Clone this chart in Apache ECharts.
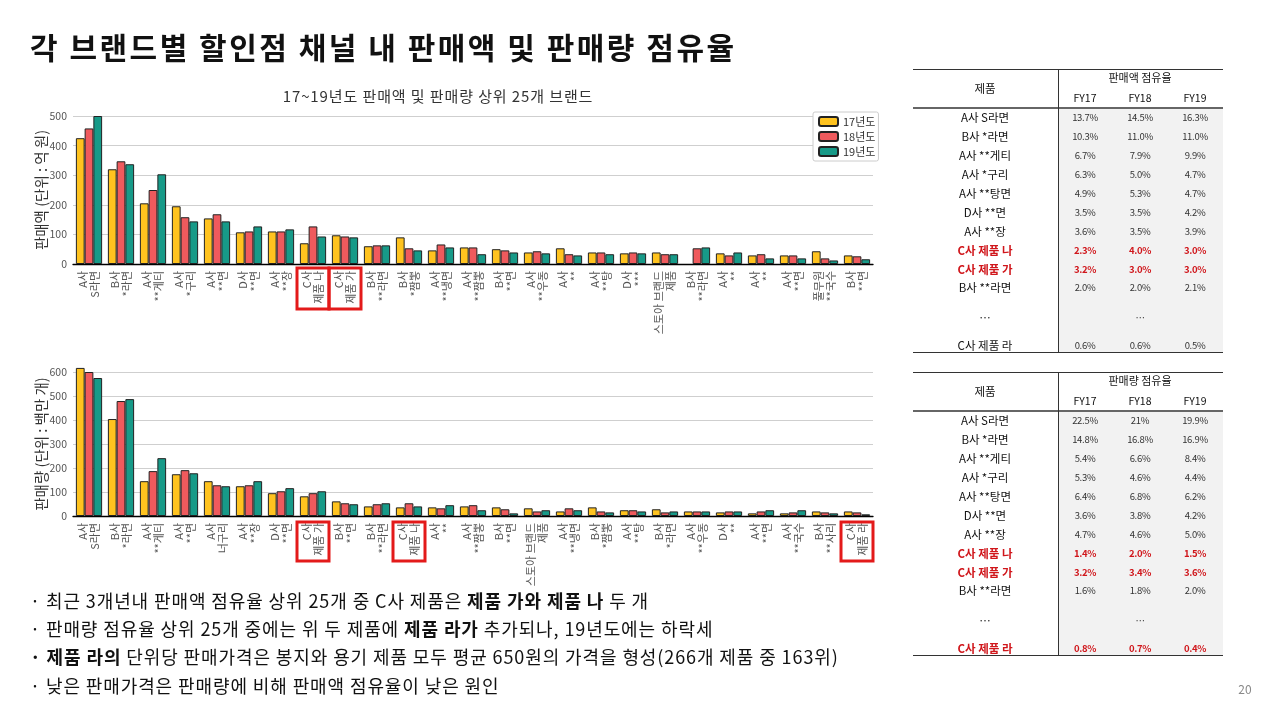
<!DOCTYPE html>
<html><head><meta charset="utf-8">
<script src="https://cdn.jsdelivr.net/npm/echarts@6/dist/echarts.min.js"></script>
<style>
body{margin:0;width:1280px;height:720px;overflow:hidden;background:#fff;font-family:"Noto Sans CJK KR","Noto Sans",sans-serif;color:#111;}
#chart{position:absolute;left:0;top:0;width:1280px;height:720px;}
.abs{position:absolute;white-space:nowrap;}
.c{transform:translate(-50%,-50%);}
.l{transform:translate(0,-50%);}
</style></head><body>
<div id="chart"></div>
<div id="overlay"></div>
<script>
// ---------- data ----------
const seriesNames = ['17년도', '18년도', '19년도'];
const salesCategories = ['A사\nS라면','B사\n*라면','A사\n**게티','A사\n*구리','A사\n**면','D사\n**면','A사\n**장','C사\n제품 나','C사\n제품 가','B사\n**라면','B사\n*짬뽕','A사\n**냉면','A사\n**짬뽕','B사\n**면','A사\n**우동','A사\n**','A사\n**탕','D사\n***','스토아 브랜드\n제품','B사\n**라면','A사\n**','A사\n**','A사\n**면','풀무원\n**국수','B사\n**면'];
const sales17 = [425,320,205,195,154,107,110,70,97,60,90,46,56,50,39,53,39,36,39,null,36,29,29,43,29];
const sales18 = [458,347,250,158,168,110,110,127,93,63,53,66,56,46,43,33,39,39,33,53,29,33,29,19,26];
const sales19 = [500,337,303,144,144,127,117,93,90,63,46,56,33,39,36,29,33,36,33,56,39,19,19,12,16];

const volumeCategories = ['A사\nS라면','B사\n*라면','A사\n**게티','A사\n**면','A사\n너구리','A사\n**장','D사\n**면','C사\n제품 가','B사\n**면','B사\n**라면','C사\n제품 나','A사\n**','A사\n**짬뽕','B사\n**면','스토아 브랜드\n제품','A사\n**냉면','B사\n*짬뽕','A사\n**탕','B사\n*라면','A사\n**우동','D사\n**','A사\n**면','A사\n**국수','B사\n**사리','C사\n제품 라'];
const volume17 = [617,404,145,174,145,124,95,82,61,40,36,36,40,36,32,19,36,24,28,19,15,11,11,19,19];
const volume18 = [600,479,187,191,128,128,103,95,53,49,53,32,45,28,19,32,19,24,15,19,19,19,15,15,15];
const volume19 = [575,487,241,178,124,145,116,103,49,53,40,45,24,11,24,24,15,19,19,19,19,24,24,11,7];

const salesTicks = [0,100,200,300,400,500];
const volumeTicks = [0,100,200,300,400,500,600];

const shareProducts = ['A사 S라면','B사 *라면','A사 **게티','A사 *구리','A사 **탕면','D사 **면','A사 **장','C사 제품 나','C사 제품 가','B사 **라면','…','C사 제품 라'];
const salesShare17 = ['13.7%','10.3%','6.7%','6.3%','4.9%','3.5%','3.6%','2.3%','3.2%','2.0%','','0.6%'];
const salesShare18 = ['14.5%','11.0%','7.9%','5.0%','5.3%','3.5%','3.5%','4.0%','3.0%','2.0%','…','0.6%'];
const salesShare19 = ['16.3%','11.0%','9.9%','4.7%','4.7%','4.2%','3.9%','3.0%','3.0%','2.1%','','0.5%'];
const salesShareHighlight = ['C사 제품 나','C사 제품 가'];
const volumeShare17 = ['22.5%','14.8%','5.4%','5.3%','6.4%','3.6%','4.7%','1.4%','3.2%','1.6%','','0.8%'];
const volumeShare18 = ['21%','16.8%','6.6%','4.6%','6.8%','3.8%','4.6%','2.0%','3.4%','1.8%','…','0.7%'];
const volumeShare19 = ['19.9%','16.9%','8.4%','4.4%','6.2%','4.2%','5.0%','1.5%','3.6%','2.0%','','0.4%'];
const volumeShareHighlight = ['C사 제품 나','C사 제품 가','C사 제품 라'];
const fyLabels = ['FY17','FY18','FY19'];

// ---------- chart ----------
const FONT = '"Noto Sans CJK KR","Noto Sans",sans-serif';
const colors = ['#FFC31F', '#EF5A5D', '#179A88'];
const chart = echarts.init(document.getElementById('chart'), null, {renderer: 'canvas'});

function xAxis(grid, cats) {
  return {
    type: 'category', gridIndex: grid, data: cats,
    axisLine: {lineStyle: {color: '#000', width: 1.3}},
    axisTick: {alignWithLabel: true, length: 4, lineStyle: {color: '#000'}},
    axisLabel: {interval: 0, rotate: 90, fontSize: 11, lineHeight: 12, color: '#555', margin: 7, fontFamily: FONT}
  };
}
function yAxis(grid, ticks, name) {
  return {
    type: 'value', gridIndex: grid, min: ticks[0], max: ticks[ticks.length - 1], interval: ticks[1] - ticks[0],
    name: name, nameLocation: 'middle', nameGap: 24, nameRotate: 90, nameMoveOverlap: false,
    nameTextStyle: {fontSize: 14.5, color: '#333', fontFamily: FONT},
    axisLine: {show: false}, axisTick: {show: false},
    axisLabel: {fontSize: 10.5, color: '#555', margin: 6, fontFamily: FONT},
    splitLine: {lineStyle: {color: '#cfcfcf', width: 1}}
  };
}
function bar(name, data, i, axis) {
  return {
    name: name, type: 'bar', data: data, xAxisIndex: axis, yAxisIndex: axis,
    barGap: '0%', barCategoryGap: '18%', clip: false,
    itemStyle: {color: colors[i], borderColor: '#222', borderWidth: 1}
  };
}

chart.setOption({
  animation: false,
  textStyle: {fontFamily: FONT},
  legend: {
    data: seriesNames, orient: 'vertical', left: 813, top: 112,
    itemWidth: 19, itemHeight: 9, itemGap: 4, itemTextGap: 3,
    padding: [4, 3, 4, 5], borderColor: '#ccc', borderWidth: 1, borderRadius: 2,
    backgroundColor: '#fff',
    textStyle: {fontSize: 11, color: '#333', fontFamily: FONT}
  },
  grid: [
    {left: 73, right: 407, top: 116, height: 148},
    {left: 73, right: 407, top: 372, height: 144}
  ],
  xAxis: [xAxis(0, salesCategories), xAxis(1, volumeCategories)],
  yAxis: [yAxis(0, salesTicks, '판매액 (단위 : 억 원)'), yAxis(1, volumeTicks, '판매량 (단위 : 백만 개)')],
  series: [
    bar(seriesNames[0], sales17, 0, 0), bar(seriesNames[1], sales18, 1, 0), bar(seriesNames[2], sales19, 2, 0),
    bar(seriesNames[0], volume17, 0, 1), bar(seriesNames[1], volume18, 1, 1), bar(seriesNames[2], volume19, 2, 1)
  ]
});

// red highlight boxes around C사 labels, positioned from the axis scale
const boxes = [];
function addBoxes(cats, axisIdx, offTop, h) {
  const y0 = chart.convertToPixel({yAxisIndex: axisIdx}, 0);
  cats.forEach((c, i) => {
    if (c.indexOf('C사') === 0) {
      const x = chart.convertToPixel({xAxisIndex: axisIdx}, i);
      boxes.push({type: 'rect', shape: {x: x - 16, y: y0 + offTop, width: 32, height: h},
        style: {fill: 'none', stroke: '#E31A1A', lineWidth: 3}, z: 100});
    }
  });
}
addBoxes(salesCategories, 0, 4, 41);
addBoxes(volumeCategories, 1, 6, 39);
chart.setOption({graphic: boxes});

// ---------- overlay text & tables ----------
const ov = document.getElementById('overlay');
function put(html, x, y, cls, style) {
  const d = document.createElement('div');
  d.className = 'abs ' + cls;
  d.style.left = x + 'px'; d.style.top = y + 'px';
  d.style.cssText += style || '';
  d.innerHTML = html;
  ov.appendChild(d);
  return d;
}
function box(x, y, w, h, style) {
  const d = document.createElement('div');
  d.className = 'abs';
  d.style.cssText = `left:${x}px;top:${y}px;width:${w}px;height:${h}px;` + style;
  ov.appendChild(d);
}

put('각 브랜드별 할인점 채널 내 판매액 및 판매량 점유율', 30, 46, 'l', 'font-size:30px;font-weight:700;color:#111;letter-spacing:2.5px;');
put('17~19년도 판매액 및 판매량 상위 25개 브랜드', 438, 95, 'c', 'font-size:15px;color:#333;letter-spacing:0.9px;');

const bullets = [
  '· 최근 3개년내 판매액 점유율 상위 25개 중 C사 제품은 <b>제품 가와 제품 나</b> 두 개',
  '· 판매량 점유율 상위 25개 중에는 위 두 제품에 <b>제품 라가</b> 추가되나, 19년도에는 하락세',
  '<b>· 제품 라의</b> 단위당 판매가격은 봉지와 용기 제품 모두 평균 650원의 가격을 형성(266개 제품 중 163위)',
  '· 낮은 판매가격은 판매량에 비해 판매액 점유율이 낮은 원인'
];
bullets.forEach((t, i) => put(t, 30, 600 + i * 28.2, 'l', 'font-size:18px;color:#111;letter-spacing:0.9px;'));
put('20', 1245, 688, 'c', 'font-size:12px;color:#888;');

function table(top, groupTitle, products, v17, v18, v19, highlight) {
  const L = 913, R = 1223, V = 1058;
  const rowY = i => (i < 10 ? top + 48.3 + i * 18.9 : (i === 10 ? top + 248 : top + 275.5));
  const bottom = top + 283;
  box(V, top + 39, R - V, bottom - top - 39, 'background:#f2f2f2;');
  box(L, top, R - L, 0, 'border-top:1.5px solid #333;');
  box(L, top + 38, R - L, 0, 'border-top:2px solid #666;');
  box(L, bottom, R - L, 0, 'border-top:1.5px solid #333;');
  box(V - 0.5, top, 0, bottom - top, 'border-left:1.2px solid #333;');
  put('제품', 985, top + 19, 'c', 'font-size:11.5px;');
  put(groupTitle, 1140, top + 8, 'c', 'font-size:11px;');
  const cx = [1085, 1140, 1195];
  fyLabels.forEach((f, j) => put(f, cx[j], top + 28, 'c', 'font-size:10.5px;'));
  products.forEach((p, i) => {
    const hl = highlight.indexOf(p) >= 0;
    const y = rowY(i);
    const st = hl ? 'color:#D0161B;font-weight:700;' : '';
    put(p, 985, y, 'c', 'font-size:11.5px;' + st);
    [v17[i], v18[i], v19[i]].forEach((v, j) => {
      if (v) put(v, cx[j], y, 'c', 'font-size:9.5px;letter-spacing:-0.3px;color:#333;' + st);
    });
  });
}
table(69, '판매액 점유율', shareProducts, salesShare17, salesShare18, salesShare19, salesShareHighlight);
table(372, '판매량 점유율', shareProducts, volumeShare17, volumeShare18, volumeShare19, volumeShareHighlight);
</script>
</body></html>
